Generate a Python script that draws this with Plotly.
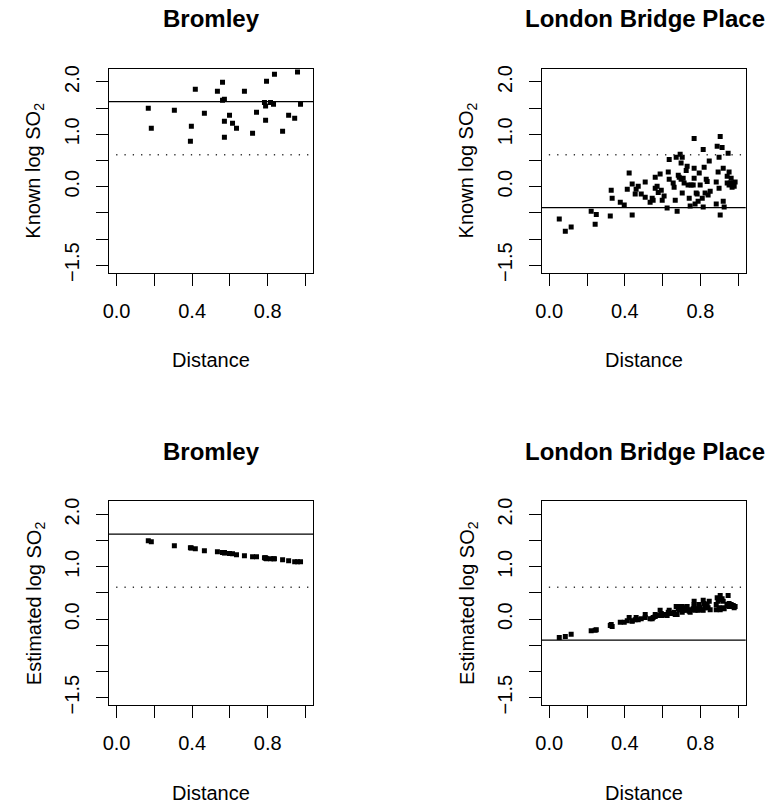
import plotly.graph_objects as go

# ---------------- data ----------------
brom_dist = [0.168, 0.184, 0.306, 0.391, 0.396, 0.417, 0.465, 0.534, 0.561, 0.561,
             0.571, 0.571, 0.571, 0.598, 0.614, 0.635, 0.677, 0.720, 0.741, 0.783,
             0.789, 0.789, 0.794, 0.815, 0.831, 0.836, 0.879, 0.911, 0.943, 0.958, 0.974]
brom_known = [1.497, 1.116, 1.459, 0.868, 1.154, 1.860, 1.402, 1.822, 1.994, 1.650,
              1.669, 1.249, 0.944, 1.364, 1.211, 1.116, 1.822, 1.020, 1.421, 1.606,
              1.542, 1.268, 2.013, 1.606, 1.574, 2.146, 1.059, 1.364, 1.307, 2.190, 1.574]
brom_est = [1.498, 1.480, 1.403, 1.365, 1.360, 1.346, 1.308, 1.289, 1.276, 1.276,
            1.270, 1.270, 1.270, 1.257, 1.250, 1.232, 1.213, 1.194, 1.194, 1.175,
            1.170, 1.170, 1.156, 1.156, 1.156, 1.156, 1.137, 1.117, 1.098, 1.098, 1.098]

lb_dist = [0.053, 0.085, 0.116, 0.222, 0.249, 0.243, 0.323, 0.328, 0.333, 0.376,
           0.397, 0.423, 0.439, 0.439, 0.413, 0.455, 0.460, 0.471, 0.487, 0.508,
           0.508, 0.534, 0.545, 0.550, 0.561, 0.561, 0.571, 0.577, 0.587, 0.593,
           0.598, 0.608, 0.624, 0.630, 0.635, 0.635, 0.656, 0.661, 0.667, 0.672,
           0.677, 0.683, 0.688, 0.693, 0.698, 0.698, 0.704, 0.704, 0.709, 0.714,
           0.725, 0.730, 0.735, 0.741, 0.746, 0.751, 0.762, 0.767, 0.767, 0.767,
           0.772, 0.778, 0.783, 0.788, 0.794, 0.799, 0.810, 0.815, 0.815, 0.820,
           0.825, 0.831, 0.836, 0.841, 0.847, 0.852, 0.884, 0.884, 0.889, 0.894,
           0.899, 0.899, 0.905, 0.905, 0.915, 0.921, 0.921, 0.926, 0.942, 0.947,
           0.952, 0.952, 0.958, 0.963, 0.968, 0.979, 0.984, 0.974, 0.942]
lb_known = [-0.62, -0.85, -0.77, -0.47, -0.53, -0.72, -0.56, -0.07, -0.22, -0.30,
            -0.35, 0.26, 0.05, -0.54, -0.05, -0.14, -0.05, 0.01, -0.14, 0.09,
            -0.20, -0.30, -0.22, -0.26, 0.18, -0.03, 0.01, -0.11, 0.24, -0.07,
            -0.26, -0.18, -0.41, 0.28, 0.52, 0.14, 0.07, -0.01, -0.26, 0.56,
            -0.47, 0.22, 0.18, 0.62, 0.45, 0.14, 0.56, -0.12, 0.16, 0.07,
            0.31, 0.39, 0.03, -0.22, -0.37, 0.03, 0.03, 0.92, 0.16, 0.35,
            -0.33, -0.12, -0.14, -0.28, 0.26, 0.03, -0.22, 0.71, -0.39, 0.37,
            -0.12, 0.14, 0.10, -0.16, 0.49, -0.09, -0.33, 0.09, 0.77, 0.28,
            0.56, -0.03, 0.96, -0.54, 0.75, 0.35, -0.28, -0.39, 0.20, 0.64,
            0.28, 0.03, 0.07, 0.16, -0.01, 0.01, 0.09, 0.07, 0.07]
lb_est = [-0.35, -0.33, -0.29, -0.22, -0.20, -0.21, -0.12, -0.10, -0.14, -0.06,
          -0.06, 0.03, -0.03, -0.04, -0.03, -0.01, 0.03, -0.01, 0.01, 0.09,
          0.03, 0.01, 0.01, 0.03, 0.09, 0.05, 0.07, 0.07, 0.17, 0.11,
          0.07, 0.09, 0.07, 0.13, 0.17, 0.11, 0.11, 0.13, 0.09, 0.24,
          0.09, 0.20, 0.18, 0.24, 0.22, 0.18, 0.24, 0.13, 0.17, 0.17,
          0.22, 0.24, 0.17, 0.15, 0.13, 0.18, 0.20, 0.34, 0.24, 0.28,
          0.17, 0.20, 0.18, 0.17, 0.28, 0.22, 0.18, 0.36, 0.17, 0.30,
          0.22, 0.28, 0.28, 0.22, 0.34, 0.18, 0.18, 0.28, 0.41, 0.34,
          0.37, 0.22, 0.45, 0.18, 0.39, 0.34, 0.22, 0.20, 0.28, 0.45,
          0.30, 0.24, 0.26, 0.28, 0.24, 0.22, 0.24, 0.26, 0.26]

brom_limit = 1.625   # solid reference line, Bromley
lb_limit = -0.40     # solid reference line, London Bridge Place
ref_level = 0.61     # dotted reference line

panel_titles = ["Bromley", "London Bridge Place", "Bromley", "London Bridge Place"]
y_titles = ["Known log SO<sub>2</sub>", "Known log SO<sub>2</sub>",
            "Estimated log SO<sub>2</sub>", "Estimated log SO<sub>2</sub>"]
x_title = "Distance"

x_tickvals = [0.0, 0.2, 0.4, 0.6, 0.8, 1.0]
x_ticktext = ["0.0", "", "0.4", "", "0.8", ""]
y_tickvals = [-1.5, -1.0, -0.5, 0.0, 0.5, 1.0, 1.5, 2.0]
y_ticktext = ["\u22121.5", "", "", "0.0", "", "1.0", "", "2.0"]

# ---------------- layout geometry ----------------
W, H = 769, 804
FONT = "Liberation Sans, Arial, Helvetica, sans-serif"
col_left = [109.0, 541.7]
row_top = [68.7, 501.2]
box = 204.0

panels = [
    (0, 0, brom_dist, brom_known, brom_limit),
    (0, 1, lb_dist, lb_known, lb_limit),
    (1, 0, brom_dist, brom_est, brom_limit),
    (1, 1, lb_dist, lb_est, lb_limit),
]

fig = go.Figure()
annotations = []
shapes = []

for i, (r, c, xs, ys, lim) in enumerate(panels):
    n = i + 1
    xa = "x" if n == 1 else f"x{n}"
    ya = "y" if n == 1 else f"y{n}"
    xl = col_left[c]
    yt = row_top[r]
    xd = [xl / W, (xl + box) / W]
    yd = [1 - (yt + box) / H, 1 - yt / H]

    fig.add_trace(go.Scatter(
        x=xs, y=ys, mode="markers", xaxis=xa, yaxis=ya,
        marker=dict(symbol="square", size=5, color="black", line=dict(width=0)),
        showlegend=False, hoverinfo="skip"))

    axis_common = dict(showgrid=False, zeroline=False, showline=True, mirror=True,
                       linecolor="black", linewidth=1, ticks="outside", ticklen=12,
                       tickcolor="black", tickwidth=1, automargin=False,
                       tickfont=dict(family=FONT, size=20, color="black"))
    fig.layout[f"xaxis{'' if n == 1 else n}"] = dict(
        domain=xd, anchor=ya, range=[-0.04, 1.04], tickmode="array",
        tickvals=x_tickvals, ticktext=x_ticktext, ticklabelstandoff=8, **axis_common)
    fig.layout[f"yaxis{'' if n == 1 else n}"] = dict(
        domain=yd, anchor=xa, range=[-1.644, 2.254], tickmode="array",
        tickvals=y_tickvals, ticktext=y_ticktext, tickangle=-90,
        ticklabelstandoff=9, **axis_common)

    # reference lines
    shapes.append(dict(type="line", xref=f"{xa} domain", yref=ya, x0=0, x1=1,
                       y0=lim, y1=lim, line=dict(color="black", width=1.3)))
    shapes.append(dict(type="line", xref=f"{xa} domain", yref=ya, x0=0.035, x1=0.99,
                       y0=ref_level, y1=ref_level,
                       line=dict(color="#333333", width=1.3, dash="1.3px,7px")))

    cx = (xl + box / 2) / W
    if c == 1:
        ttl = dict(x=(xl - 19) / W, xanchor="left")
    else:
        ttl = dict(x=cx, xanchor="center")
    annotations.append(dict(text=f"<b>{panel_titles[i]}</b>", xref="paper", yref="paper",
                            y=1 - (yt - 50) / H, yanchor="middle",
                            showarrow=False, font=dict(family=FONT, size=24, color="black"),
                            **ttl))
    annotations.append(dict(text=x_title, xref="paper", yref="paper",
                            x=cx, y=1 - (yt + box + 87.5) / H, xanchor="center",
                            yanchor="middle", showarrow=False,
                            font=dict(family=FONT, size=20, color="black")))
    annotations.append(dict(text=y_titles[i], xref="paper", yref="paper",
                            x=(xl - 74) / W, y=1 - (yt + box / 2) / H, xanchor="center",
                            yanchor="middle", textangle=-90, showarrow=False,
                            font=dict(family=FONT, size=20, color="black")))

fig.update_layout(width=W, height=H, margin=dict(l=0, r=0, t=0, b=0, autoexpand=False),
                  paper_bgcolor="white", plot_bgcolor="white",
                  annotations=annotations, shapes=shapes,
                  font=dict(family=FONT, color="black"))

# remove the browser's default 8px body margin so the figure sits at the page origin
fig.write_html("out.html", config={"displayModeBar": False},
               post_script="document.body.style.margin='0';")
